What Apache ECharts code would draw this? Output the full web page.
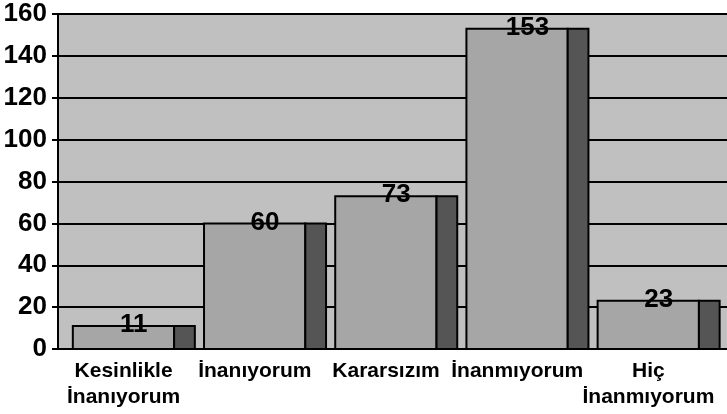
<!DOCTYPE html>
<html>
<head>
<meta charset="utf-8">
<script src="https://cdn.jsdelivr.net/npm/echarts@6/dist/echarts.min.js"></script>
<style>
  html, body { margin: 0; padding: 0; background: #fff; }
</style>
</head>
<body>
<div id="myChart" style="width: 727px; height: 414px;"></div>
<script>
// categories and values
var categories = ["Kesinlikle\nİnanıyorum", "İnanıyorum", "Kararsızım", "İnanmıyorum", "Hiç\nİnanmıyorum"];
var counts = [11, 60, 73, 153, 23];
var yTicks = { min: 0, max: 160, interval: 20 };

var FONT = '"Liberation Sans", Arial, sans-serif';

var myChart = echarts.init(document.getElementById("myChart"));

// front face + dark side face, like the old 3D column chart
function renderBar(params, api) {
  var idx = api.value(0);
  var v = api.value(1);
  var base = api.coord([idx, 0]);
  var top = api.coord([idx, v]);
  var band = api.size([1, 0])[0];
  var x0 = base[0] - band / 2;
  var fx = x0 + band * 0.113;
  var fw = band * 0.772;
  var sw = band * 0.158;
  var h = base[1] - top[1];
  return {
    type: "group",
    children: [
      { type: "rect", shape: { x: fx, y: top[1], width: fw, height: h },
        style: { fill: "#a6a6a6", stroke: "#000", lineWidth: 2 } },
      { type: "rect", shape: { x: fx + fw, y: top[1], width: sw, height: h },
        style: { fill: "#555555", stroke: "#000", lineWidth: 2 } },
      { type: "text", x: fx + (fw + sw) / 2, y: top[1] - 1, z2: 10,
        style: { text: String(v), font: "bold 26px " + FONT, fill: "#000",
                 align: "center", verticalAlign: "middle" } }
    ]
  };
}

myChart.setOption({
  animation: false,
  grid: [
    { left: 58, right: 0, top: 14, bottom: 65, show: true, backgroundColor: "#c0c0c0", borderWidth: 0 },
    { left: 58, right: 13, top: 14, bottom: 65 }
  ],
  xAxis: [
    { type: "value", gridIndex: 0, min: 0, max: 1, show: false },
    {
      type: "category",
      gridIndex: 1,
      data: categories,
      axisLine: { lineStyle: { color: "#000", width: 2 } },
      axisTick: { length: 6, lineStyle: { color: "#000", width: 2 } },
      axisLabel: {
        interval: 0,
        margin: 9,
        color: "#000",
        fontFamily: FONT,
        fontWeight: "bold",
        fontSize: 21,
        lineHeight: 26
      }
    }
  ],
  yAxis: [
    {
      type: "value",
      gridIndex: 0,
      min: yTicks.min,
      max: yTicks.max,
      interval: yTicks.interval,
      axisLine: { show: true, lineStyle: { color: "#000", width: 2 } },
      axisTick: { show: true, length: 6, lineStyle: { color: "#000", width: 2 } },
      axisLabel: { margin: 11, color: "#000", fontFamily: FONT, fontWeight: "bold", fontSize: 26 },
      splitLine: { lineStyle: { color: "#000", width: 2 } }
    },
    { type: "value", gridIndex: 1, min: yTicks.min, max: yTicks.max, show: false }
  ],
  series: [
    {
      type: "custom",
      xAxisIndex: 1,
      yAxisIndex: 1,
      renderItem: renderBar,
      encode: { x: 0, y: 1 },
      data: counts.map(function (v, i) { return [i, v]; })
    }
  ]
});
</script>
</body>
</html>
